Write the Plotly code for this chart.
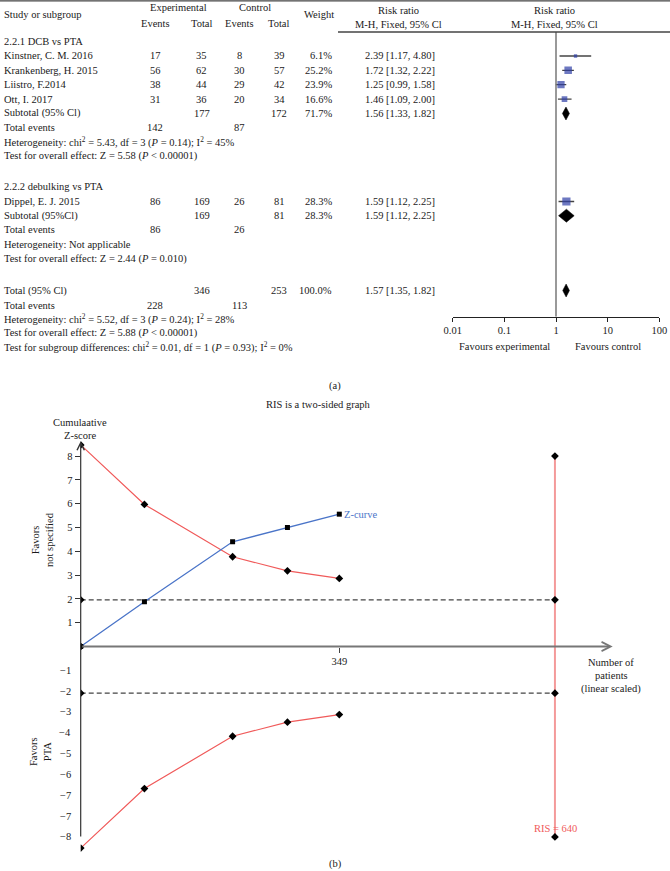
import plotly.graph_objects as go

W, H = 670, 871
FONT = "Liberation Serif"
FS = 10.5
TXT = "#1a1a1a"

# ---------------- Forest plot data (panel a) ----------------
study_names = ["Kinstner, C. M. 2016", "Krankenberg, H. 2015", "Liistro, F.2014",
               "Ott, I. 2017", "Dippel, E. J. 2015"]
exp_events = [17, 56, 38, 31, 86]
exp_total = [35, 62, 44, 36, 169]
ctrl_events = [8, 30, 29, 20, 26]
ctrl_total = [39, 57, 42, 34, 81]
weights = [6.1, 25.2, 23.9, 16.6, 28.3]
rr = [2.39, 1.72, 1.25, 1.46, 1.59]
rr_lo = [1.17, 1.32, 0.99, 1.09, 1.12]
rr_hi = [4.80, 2.22, 1.58, 2.00, 2.25]

pooled_labels = ["Subtotal (95% Cl)", "Subtotal (95%Cl)", "Total (95% Cl)"]
pooled_exp_total = [177, 169, 346]
pooled_ctrl_total = [172, 81, 253]
pooled_weight = [71.7, 28.3, 100.0]
pooled_rr = [1.56, 1.59, 1.57]
pooled_lo = [1.33, 1.12, 1.35]
pooled_hi = [1.82, 2.25, 1.82]
total_events_exp = [142, 86, 228]
total_events_ctrl = [87, 26, 113]
group_labels = ["2.2.1 DCB vs PTA", "2.2.2 debulking vs PTA"]
stat_lines = [
    "Heterogeneity: chi<sup>2</sup> = 5.43, df = 3 (<i>P</i> = 0.14); I<sup>2</sup> = 45%",
    "Test for overall effect: Z = 5.58 (<i>P</i> &lt; 0.00001)",
    "Heterogeneity: Not applicable",
    "Test for overall effect: Z = 2.44 (<i>P</i> = 0.010)",
    "Heterogeneity: chi<sup>2</sup> = 5.52, df = 3 (<i>P</i> = 0.24); I<sup>2</sup> = 28%",
    "Test for overall effect: Z = 5.88 (<i>P</i> &lt; 0.00001)",
    "Test for subgroup differences: chi<sup>2</sup> = 0.01, df = 1 (<i>P</i> = 0.93); I<sup>2</sup> = 0%",
]
forest_ticks = [0.01, 0.1, 1, 10, 100]
forest_tick_text = ["0.01", "0.1", "1", "10", "100"]

# ---------------- TSA data (panel b) ----------------
cum_patients = [0, 86, 205, 279, 349]
z_curve = [0, 1.88, 4.40, 5.00, 5.56]
boundary_upper = [8.47, 5.97, 3.77, 3.18, 2.86]
ris = 640
conv_z = 1.96
ris_limit = 8.0
pos_ticks = [1, 2, 3, 4, 5, 6, 7, 8]
neg_ticks = [-1, -2, -3, -4, -5, -6, -7, -8]
neg_tick_labels = ["\u22121", "\u22122", "\u22123", "\u22124", "\u22125", "\u22126",
                   "\u22127", "\u22127", "\u22128"]

# ---------------- layout helpers ----------------
def px(x):
    return x / W


def py(y):
    return 1 - y / H


# pixel rows of the forest table
study_rows = [56, 70.3, 84.7, 99.1, 201.5]
group_rows = [41.7, 186.5]
pooled_rows = [113.5, 215.7, 290.5]
te_rows = [127.8, 230, 305]
stat_rows = [142, 155.5, 244.5, 259, 318.5, 333, 347]

COL_EE, COL_ET, COL_CE, COL_CT, COL_W, COL_RR = 155, 201.7, 239.5, 279.3, 334, 363
FOREST_LEFT, FOREST_RIGHT = 452.7, 659.3
FOREST_TOP, FOREST_AXIS = 32, 316.7

fig = go.Figure()
ann = []


def text(x, y, s, xanchor="left", color=TXT, size=FS, **kw):
    ann.append(dict(x=px(x), y=py(y), xref="paper", yref="paper", text=s,
                    showarrow=False, xanchor=xanchor, yanchor="middle",
                    font=dict(family=FONT, size=size, color=color), **kw))


# header
text(2, 15, "Study or subgroup")
text(178.3, 7.5, "Experimental", "center")
text(254.5, 7.5, "Control", "center")
text(155, 23, "Events", "center")
text(201.7, 23, "Total", "center")
text(239.5, 23, "Events", "center")
text(279.3, 23, "Total", "center")
text(319, 15, "Weight", "center")
text(398.5, 10, "Risk ratio", "center")
text(398.5, 24, "M-H, Fixed, 95% Cl", "center")
text(554, 10, "Risk ratio", "center")
text(554, 24, "M-H, Fixed, 95% Cl", "center")

for s, y in zip(group_labels, group_rows):
    text(2, y, s)
for i, y in enumerate(study_rows):
    text(2, y, study_names[i])
    text(COL_EE, y, str(exp_events[i]), "center")
    text(COL_ET, y, str(exp_total[i]), "center")
    text(COL_CE, y, str(ctrl_events[i]), "center")
    text(COL_CT, y, str(ctrl_total[i]), "center")
    text(COL_W, y, f"{weights[i]:.1f}%", "right")
    text(COL_RR, y, f"{rr[i]:.2f} [{rr_lo[i]:.2f}, {rr_hi[i]:.2f}]")
for i, y in enumerate(pooled_rows):
    text(2, y, pooled_labels[i])
    text(COL_ET, y, str(pooled_exp_total[i]), "center")
    text(COL_CT, y, str(pooled_ctrl_total[i]), "center")
    text(COL_W, y, f"{pooled_weight[i]:.1f}%", "right")
    text(COL_RR, y, f"{pooled_rr[i]:.2f} [{pooled_lo[i]:.2f}, {pooled_hi[i]:.2f}]")
for i, y in enumerate(te_rows):
    text(2, y, "Total events")
    text(COL_EE, y, str(total_events_exp[i]), "center")
    text(COL_CE, y, str(total_events_ctrl[i]), "center")
for s, y in zip(stat_lines, stat_rows):
    text(2, y, s)

text(504, 346.7, "Favours experimental", "center")
text(608.3, 346.7, "Favours control", "center")

# forest marks
ci_x, ci_y = [], []
for i, y in enumerate(study_rows):
    ci_x += [rr_lo[i], rr_hi[i], None]
    ci_y += [y, y, None]
fig.add_trace(go.Scatter(x=ci_x, y=ci_y, mode="lines", line=dict(color="#444", width=1.3),
                         xaxis="x", yaxis="y", hoverinfo="skip"))
fig.add_trace(go.Scatter(x=rr, y=study_rows, mode="markers",
                         marker=dict(symbol="square", color="#2f3fa6",
                                     size=[2.0 + w * 0.22 for w in weights], line=dict(width=0)),
                         xaxis="x", yaxis="y"))
for i, y in enumerate(pooled_rows):
    h = 6.5
    fig.add_trace(go.Scatter(x=[pooled_lo[i], pooled_rr[i], pooled_hi[i], pooled_rr[i], pooled_lo[i]],
                             y=[y, y - h, y, y + h, y], mode="lines", fill="toself",
                             fillcolor="black", line=dict(color="black", width=0.5),
                             xaxis="x", yaxis="y"))
# null line
fig.add_trace(go.Scatter(x=[1, 1], y=[FOREST_TOP, FOREST_AXIS], mode="lines",
                         line=dict(color="#777", width=1.5), xaxis="x", yaxis="y"))

shapes = [
    dict(type="line", xref="paper", yref="paper", x0=0, x1=1, y0=py(0.8), y1=py(0.8),
         line=dict(color="#444", width=1.3)),
    dict(type="line", xref="paper", yref="paper", x0=px(338), x1=1, y0=py(32), y1=py(32),
         line=dict(color="#444", width=1.3)),
]

# ---------------- TSA panel ----------------
X0PX, PPX = 80.7, 0.741
Y0PX, PPY = 646.5, 23.8
TSA_RIGHT, TSA_TOP, TSA_BOT = 625, 440, 870
x2range = [0, (TSA_RIGHT - X0PX) / PPX]
y2range = [(Y0PX - TSA_BOT) / PPY, (Y0PX - TSA_TOP) / PPY]

RED = "#f05a5a"
BLUE = "#4a74c8"
# dashed conventional boundaries
for s in (1, -1):
    fig.add_trace(go.Scatter(x=[0, ris], y=[s * conv_z, s * conv_z], mode="lines",
                             line=dict(color="#444", width=1.3, dash="5px,3px"),
                             xaxis="x2", yaxis="y2"))
# RIS line
fig.add_trace(go.Scatter(x=[ris, ris], y=[-ris_limit, ris_limit], mode="lines",
                         line=dict(color="#f49a9a", width=2), xaxis="x2", yaxis="y2"))
fig.add_trace(go.Scatter(x=[ris, ris, ris, ris, 0, 0, 0],
                         y=[ris_limit, conv_z, -conv_z, -ris_limit, conv_z, -conv_z, 0],
                         mode="markers", marker=dict(symbol="diamond", size=6, color="black"),
                         xaxis="x2", yaxis="y2"))
# boundaries
for s in (1, -1):
    fig.add_trace(go.Scatter(x=cum_patients, y=[s * b for b in boundary_upper],
                             mode="lines+markers", line=dict(color=RED, width=1.2),
                             marker=dict(symbol="diamond", size=6, color="black"),
                             xaxis="x2", yaxis="y2"))
# Z-curve
fig.add_trace(go.Scatter(x=cum_patients, y=z_curve, mode="lines+markers",
                         line=dict(color=BLUE, width=1.3),
                         marker=dict(symbol="square", size=5, color="black"),
                         xaxis="x2", yaxis="y2"))

# axes arrows
ann.append(dict(x=0, y=8.62, ax=0, ay=-8.05, xref="x2", yref="y2",
                axref="x2", ayref="y2", text="", showarrow=True, arrowhead=5,
                arrowsize=1.2, arrowwidth=1.2, arrowcolor="#333"))
ann.append(dict(x=(612.7 - X0PX) / PPX, y=0, ax=0, ay=0, xref="x2", yref="y2",
                axref="x2", ayref="y2", text="", showarrow=True, arrowhead=5,
                arrowsize=0.9, arrowwidth=2, arrowcolor="#777"))

# negative tick labels (as printed)
n = len(neg_tick_labels)
for i, lab in enumerate(neg_tick_labels):
    yv = -1 - i * 7 / (n - 1)
    ann.append(dict(x=px(X0PX - 8), y=yv, xref="paper", yref="y2", text=lab, showarrow=False,
                    xanchor="right", yanchor="middle",
                    font=dict(family=FONT, size=FS, color=TXT)))

# panel b texts
text(335, 386, "(a)", "center")
text(318, 405, "RIS is a two-sided graph", "center")
text(80, 422, "Cumulaative", "center")
text(80, 435.5, "Z-score", "center")
text(42, 540, "Favors<br>not specified", "center", textangle=-90)
text(40, 752, "Favors<br>PTA", "center", textangle=-90)
text(341.5, 514.5, "Z-curve", "left", color=BLUE)
text(611, 662, "Number of", "center")
text(611, 675.5, "patients", "center")
text(611, 689, "(linear scaled)", "center")
text(555, 828.5, "RIS = 640", "center", color=RED)
text(335, 864, "(b)", "center")

fig.update_layout(
    width=W, height=H, margin=dict(l=0, r=0, t=0, b=0, autoexpand=False),
    paper_bgcolor="white", plot_bgcolor="rgba(0,0,0,0)", showlegend=False,
    font=dict(family=FONT, size=FS, color=TXT),
    xaxis=dict(type="log", domain=[px(FOREST_LEFT), px(FOREST_RIGHT)], range=[-2, 2],
               tickvals=forest_ticks, ticktext=forest_tick_text, showline=True,
               linecolor="#222", linewidth=1.2, ticks="outside", ticklen=4, tickcolor="#222",
               showgrid=False, zeroline=False, anchor="y",
               tickfont=dict(family=FONT, size=FS, color=TXT)),
    yaxis=dict(domain=[py(FOREST_AXIS), py(FOREST_TOP)], range=[FOREST_AXIS, FOREST_TOP],
               visible=False),
    xaxis2=dict(domain=[px(X0PX), px(TSA_RIGHT)], range=x2range, anchor="free",
                position=py(Y0PX), tickvals=[349], ticktext=["349"], ticks="outside",
                ticklen=5, tickcolor="#444", showline=False, showgrid=False, zeroline=False,
                tickfont=dict(family=FONT, size=FS, color=TXT)),
    yaxis2=dict(domain=[py(TSA_BOT), py(TSA_TOP)], range=y2range, anchor="x2",
                tickvals=pos_ticks, ticktext=[str(v) for v in pos_ticks],
                ticks="outside", ticklen=5, tickcolor="#333", showline=False,
                showgrid=False, zeroline=False, tickfont=dict(family=FONT, size=FS, color=TXT)),
    yaxis3=dict(domain=[py(TSA_BOT), py(TSA_TOP)], range=y2range, anchor="x2",
                overlaying="y2", side="left", tickvals=neg_ticks, showticklabels=False,
                ticks="outside", ticklen=5, tickcolor="#333", showline=False,
                showgrid=False, zeroline=False),
    annotations=ann, shapes=shapes,
)

fig.write_html("out.html", config={"displayModeBar": False},
               post_script="document.body.style.margin='0px';")
